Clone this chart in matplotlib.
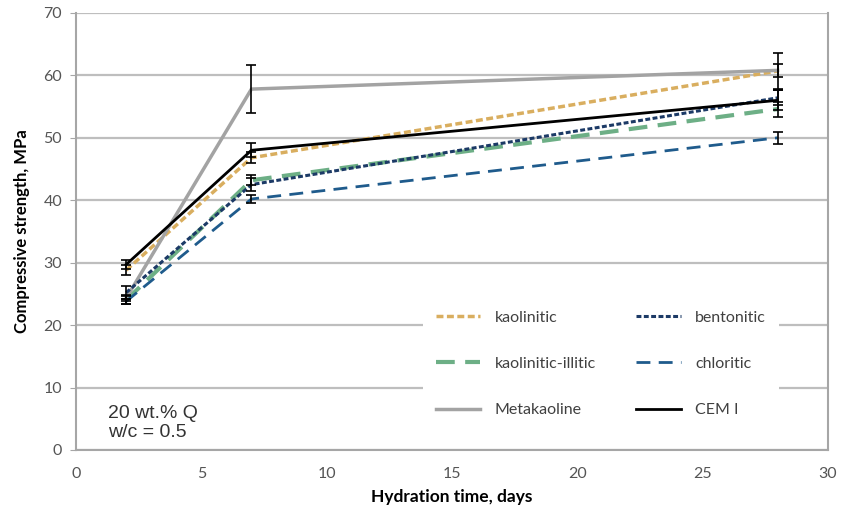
import matplotlib.pyplot as plt

days = [2, 7, 28]

kaolinitic = [28.8, 46.8, 60.7]
kaolinitic_err = [0.8, 0.9, 2.9]
kaol_illitic = [24.0, 43.2, 54.6]
kaol_illitic_err = [0.6, 0.8, 1.2]
metakaoline = [24.3, 57.8, 60.8]
metakaoline_err = [0.5, 3.8, 1.1]
bentonitic = [25.2, 42.5, 56.4]
bentonitic_err = [1.0, 1.0, 1.2]
chloritic = [23.8, 40.2, 50.0]
chloritic_err = [0.4, 0.6, 1.0]
cem1 = [29.7, 48.0, 56.0]
cem1_err = [0.7, 1.1, 1.6]

plt.rcParams['font.family'] = ['Lato', 'DejaVu Sans']

fig = plt.figure(figsize=(8.42, 5.17), dpi=100)
ax = fig.add_axes([0.0903, 0.1296, 0.8927, 0.8454])

series = [
    ('kaolinitic', kaolinitic, kaolinitic_err, '#D9AE5F', (0, (2.0, 1.0)), 2.5),
    ('kaolinitic-illitic', kaol_illitic, kaol_illitic_err, '#6DAF86', (0, (4.5, 2.5)), 3.0),
    ('Metakaoline', metakaoline, metakaoline_err, '#A3A3A3', '-', 2.5),
    ('bentonitic', bentonitic, bentonitic_err, '#1C3A66', (0, (1.6, 0.8)), 2.2),
    ('chloritic', chloritic, chloritic_err, '#1F5B8C', (0, (5.0, 3.0)), 2.0),
    ('CEM I', cem1, cem1_err, 'black', '-', 2.0),
]

handles = []
for name, vals, err, col, ls, lw in series:
    ax.errorbar(days, vals, yerr=err, fmt='none', ecolor='black',
                elinewidth=1.2, capsize=3.5, capthick=1.2, zorder=4)
    h, = ax.plot(days, vals, color=col, linestyle=ls, lw=lw, zorder=3,
                 label=name)
    handles.append(h)

ax.set(xlim=[0, 30], ylim=[0, 70])
ax.set_xticks(range(0, 31, 5))
ax.set_yticks(range(0, 71, 10))
ax.grid(axis='y', color='#BEBEBE', lw=1.6, zorder=0)
ax.set_axisbelow(True)
for s in ['left', 'bottom', 'right']:
    ax.spines[s].set_color('#A6A6A6')
    ax.spines[s].set_linewidth(1.5)
ax.spines['top'].set_visible(False)
ax.tick_params(axis='y', direction='out', length=4, color='#A6A6A6',
               labelsize=11.5, labelcolor='#555555', pad=6)
ax.tick_params(axis='x', length=0, labelsize=11.5, labelcolor='#555555', pad=12)

ax.set_xlabel('Hydration time, days', fontsize=12.5, fontweight='bold', labelpad=6)
ax.set_ylabel('Compressive strength, MPa', fontsize=12, fontweight='bold', labelpad=10)

leg = ax.legend(handles=handles, ncol=2, loc='upper left',
                bbox_to_anchor=(0.4614, 0.348),
                fontsize=11.5, handlelength=2.8, handletextpad=0.9,
                labelspacing=2.0, columnspacing=2.5, borderpad=0.8,
                borderaxespad=0,
                frameon=True, fancybox=False, framealpha=1)
leg.get_frame().set_edgecolor('none')
leg.get_frame().set_facecolor('white')
for t in leg.get_texts():
    t.set_color('#404040')

ax.text(0.042, 0.02, '20 wt.% Q\nw/c = 0.5', transform=ax.transAxes,
        fontsize=14, family='Liberation Sans', color='#333333',
        va='bottom', ha='left', linespacing=1.15)

fig.savefig('out.png', dpi=100)
